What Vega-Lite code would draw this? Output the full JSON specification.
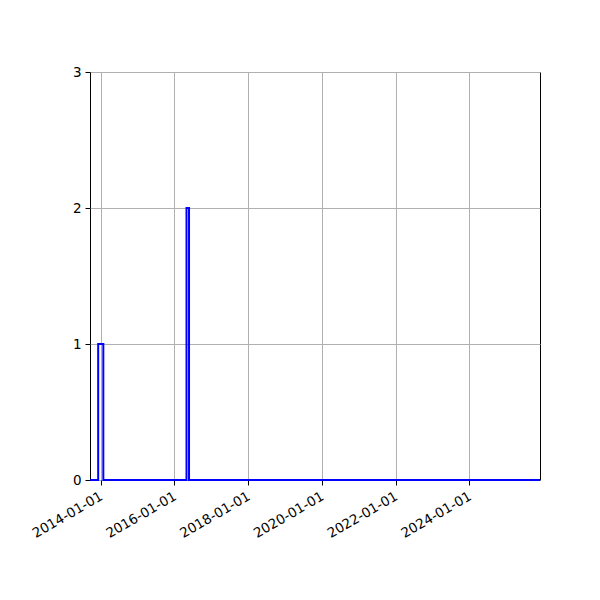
{
  "$schema": "https://vega.github.io/schema/vega-lite/v6.json",
  "width": 450,
  "height": 408,
  "autosize": "none",
  "padding": {"left": 90, "top": 72, "right": 60, "bottom": 120},
  "background": "white",
  "config": {
    "view": {"stroke": "black", "strokeWidth": 1},
    "axis": {
      "labelFont": "DejaVu Sans",
      "labelFontSize": 13.5,
      "labelColor": "black",
      "domain": false,
      "tickColor": "black",
      "tickSize": 5,
      "tickWidth": 1,
      "gridColor": "#b0b0b0",
      "gridWidth": 1,
      "gridOpacity": 1,
      "labelPadding": 3,
      "title": null
    }
  },
  "data": {
    "values": [
      {"edge": "2013-09-17", "count": 0},
      {"edge": "2013-12-07", "count": 1},
      {"edge": "2014-01-27", "count": 0},
      {"edge": "2016-04-30", "count": 2},
      {"edge": "2016-05-25", "count": 0},
      {"edge": "2025-12-01", "count": 0}
    ]
  },
  "mark": {"type": "line", "interpolate": "step-after", "color": "#0000ff", "strokeWidth": 2, "clip": false},
  "encoding": {
    "x": {
      "field": "edge",
      "type": "temporal",
      "scale": {
        "type": "utc",
        "domain": [
          {"year": 2013, "month": 9, "date": 17, "utc": true},
          {"year": 2025, "month": 12, "date": 1, "utc": true}
        ]
      },
      "axis": {
        "values": [
          {"year": 2014, "month": 1, "date": 1, "utc": true},
          {"year": 2016, "month": 1, "date": 1, "utc": true},
          {"year": 2018, "month": 1, "date": 1, "utc": true},
          {"year": 2020, "month": 1, "date": 1, "utc": true},
          {"year": 2022, "month": 1, "date": 1, "utc": true},
          {"year": 2024, "month": 1, "date": 1, "utc": true}
        ],
        "format": "%Y-%m-%d",
        "labelAngle": -30,
        "labelAlign": "right",
        "labelBaseline": "top",
        "labelOffset": -3,
        "labelPadding": 4,
        "labelOverlap": false,
        "labelFlush": false
      }
    },
    "y": {
      "field": "count",
      "type": "quantitative",
      "scale": {"domain": [0, 3], "nice": false},
      "axis": {"values": [0, 1, 2, 3], "format": "d", "labelPadding": 4}
    }
  }
}
